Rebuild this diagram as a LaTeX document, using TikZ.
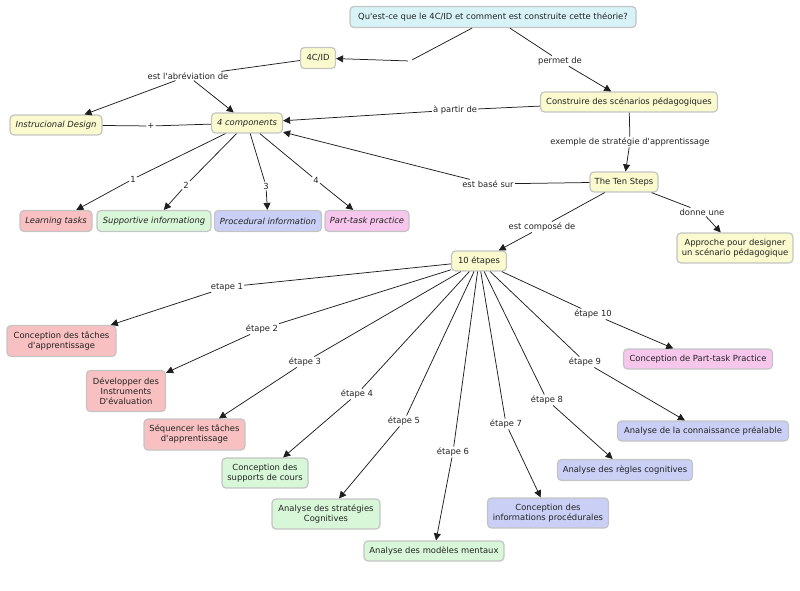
\documentclass[tikz,border=0pt]{standalone}
\usepackage{fontspec}
\setmainfont{DejaVu Sans}[Ligatures=TeXOff]
\usetikzlibrary{arrows.meta}
\definecolor{cyanf}{RGB}{216,243,248}
\definecolor{yelf}{RGB}{250,250,206}
\definecolor{redf}{RGB}{248,192,192}
\definecolor{greenf}{RGB}{216,247,216}
\definecolor{bluef}{RGB}{202,207,245}
\definecolor{pinkf}{RGB}{246,198,236}
\definecolor{bord}{RGB}{196,196,196}
\definecolor{txt}{RGB}{35,35,35}
\definecolor{lnc}{RGB}{30,30,30}
\begin{document}
\begin{tikzpicture}[x=1pt,y=-1pt,
  every node/.style={font=\fontsize{8.4}{10}\selectfont, text=txt},
  cbox/.style={draw=bord, line width=1.2pt, rounded corners=4pt, inner sep=1pt, align=center},
  cy/.style={cbox, fill=cyanf},
  yel/.style={cbox, fill=yelf},
  red/.style={cbox, fill=redf},
  grn/.style={cbox, fill=greenf},
  blu/.style={cbox, fill=bluef},
  pnk/.style={cbox, fill=pinkf},
  it/.style={font=\fontsize{8.4}{10}\selectfont\itshape},
  sz/.style 2 args={minimum width=#1, minimum height=#2},
  lbl/.style={inner sep=1pt},
  ln/.style={draw=lnc, line width=0.75pt},
  arr/.style={ln, -{Triangle[length=7pt,width=7pt]}}
]
\useasboundingbox (0,0) rectangle (800,591);
% concept nodes
\node[cy, sz={286}{21}] (q) at (493,17) {Qu'est-ce que le 4C/ID et comment est construite cette théorie?};
\node[yel, sz={35}{21}] (c4) at (318,58) {4C/ID};
\node[yel, sz={177}{20}] (cons) at (629,102) {Construire des scénarios pédagogiques};
\node[yel, it, sz={92}{20}] (inst) at (56,125) {Instrucional Design};
\node[yel, it, sz={71}{20}] (comp) at (247,123) {4 components};
\node[yel, sz={68}{20}] (ten) at (624,182) {The Ten Steps};
\node[yel, sz={116}{30}] (appr) at (735,248) {Approche pour designer\\un scénario pédagogique};
\node[red, it, sz={72}{21}] (lt) at (56,221) {Learning tasks};
\node[grn, it, sz={114}{21}] (si) at (154,221) {Supportive informationg};
\node[blu, it, sz={107}{21}] (pi) at (268,221) {Procedural information};
\node[pnk, it, sz={84}{21}] (pt) at (367,221) {Part-task practice};
\node[yel, sz={55}{20}] (dix) at (479,261) {10 étapes};
\node[red, sz={109}{31}] (s1) at (61.5,341) {Conception des tâches\\d'apprentissage};
\node[red, sz={79}{41}] (s2) at (126,391) {Développer des\\Instruments\\D'évaluation};
\node[red, sz={101}{31}] (s3) at (194.5,434.5) {Séquencer les tâches\\d'apprentissage};
\node[grn, sz={86}{30}] (s4) at (265,473) {Conception des\\supports de cours};
\node[grn, sz={108}{30}] (s5) at (326,514) {Analyse des stratégies\\Cognitives};
\node[grn, sz={140}{20}] (s6) at (434,551) {Analyse des modèles mentaux};
\node[blu, sz={121}{30}] (s7) at (548,513) {Conception des\\informations procédurales};
\node[blu, sz={135}{21}] (s8) at (625,470) {Analyse des règles cognitives};
\node[blu, sz={171}{20}] (s9) at (703,431) {Analyse de la connaissance préalable};
\node[pnk, sz={149}{20}] (s10) at (698,359) {Conception de Part-task Practice};
% link labels
\node[inner sep=0pt, minimum size=4pt] (gap) at (410,61) {};
\node[lbl] (labr) at (188,76) {est l'abréviation de};
\node[lbl] (perm) at (560,61) {permet de};
\node[lbl] (apart) at (455,110) {à partir de};
\node[lbl] (plus) at (151,126) {+};
\node[lbl] (exem) at (630,142) {exemple de stratégie d'apprentissage};
\node[lbl] (base) at (488,184) {est basé sur};
\node[lbl] (compo) at (542,227) {est composé de};
\node[lbl] (donne) at (702,212) {donne une};
\node[lbl] (n1) at (133,179) {1};
\node[lbl] (n2) at (186,185) {2};
\node[lbl] (n3) at (266,186) {3};
\node[lbl] (n4) at (316,180) {4};
\node[lbl] (e1) at (227,287) {etape 1};
\node[lbl] (e2) at (262,329) {étape 2};
\node[lbl] (e3) at (305,362) {étape 3};
\node[lbl] (e4) at (357,394) {étape 4};
\node[lbl] (e5) at (404,421) {étape 5};
\node[lbl] (e6) at (453,452) {étape 6};
\node[lbl] (e7) at (506,424) {étape 7};
\node[lbl] (e8) at (547,400) {étape 8};
\node[lbl] (e9) at (585,362) {étape 9};
\node[lbl] (e10) at (593,314) {étape 10};
% connectors
\draw[ln] (q) -- (gap); \draw[arr] (gap) -- (c4);
\draw[ln] (c4) -- (labr); \draw[arr] (labr) -- (inst); \draw[arr] (labr) -- (comp);
\draw[ln] (q) -- (perm); \draw[arr] (perm) -- (cons);
\draw[ln] (cons) -- (apart); \draw[arr] (apart) -- (comp);
\draw[ln] (inst) -- (plus); \draw[ln] (plus) -- (comp);
\draw[ln] (cons) -- (exem); \draw[arr] (exem) -- (ten);
\draw[ln] (ten) -- (base); \draw[arr] (base) -- (comp);
\draw[ln] (ten) -- (compo); \draw[arr] (compo) -- (dix);
\draw[ln] (ten) -- (donne); \draw[arr] (donne) -- (appr);
\draw[ln] (comp) -- (n1); \draw[arr] (n1) -- (lt);
\draw[ln] (comp) -- (n2); \draw[arr] (n2) -- (si);
\draw[ln] (comp) -- (n3); \draw[arr] (n3) -- (pi);
\draw[ln] (comp) -- (n4); \draw[arr] (n4) -- (pt);
\foreach \i in {1,...,10} {
  \draw[ln] (dix) -- (e\i); \draw[arr] (e\i) -- (s\i);
}
\end{tikzpicture}
\end{document}
